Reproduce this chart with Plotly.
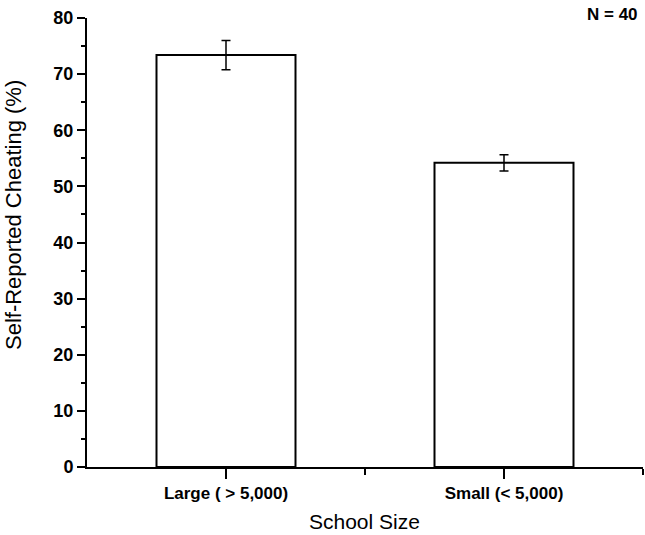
import plotly.graph_objects as go

# Self-reported cheating by school size
categories = ["Large ( > 5,000)", "Small (< 5,000)"]
cheating_pct = [73.4, 54.2]
std_error = [2.6, 1.45]
positions = [1, 2]

FONT = "Liberation Sans, Arial, sans-serif"

fig = go.Figure()
fig.add_trace(go.Bar(
    x=positions,
    y=cheating_pct,
    width=0.5,
    marker=dict(color="white", line=dict(color="black", width=2)),
    error_y=dict(type="data", array=std_error, visible=True,
                 color="black", thickness=1.5, width=4.5),
    showlegend=False,
))

fig.update_layout(
    width=645, height=535,
    margin=dict(l=87, r=2, t=18, b=68),
    plot_bgcolor="white", paper_bgcolor="white",
    font=dict(family=FONT, color="black"),
    xaxis=dict(
        range=[0.5, 2.5],
        tickvals=positions, ticktext=categories,
        ticks="outside", ticklen=10, tickwidth=2, tickcolor="black",
        tickfont=dict(size=17, family=FONT, weight="bold"),
        showline=True, linecolor="black", linewidth=2,
        showgrid=False, zeroline=False,
        minor=dict(tickvals=[1.5, 2.5], ticks="outside", ticklen=6,
                   tickwidth=2, tickcolor="black", showgrid=False),
    ),
    yaxis=dict(
        range=[0, 80], dtick=10,
        ticks="outside", ticklen=8, tickwidth=2, tickcolor="black",
        tickfont=dict(size=18, family=FONT, weight="bold"),
        showline=True, linecolor="black", linewidth=2,
        showgrid=False, zeroline=False,
        minor=dict(dtick=5, ticks="outside", ticklen=4, tickwidth=2,
                   tickcolor="black", showgrid=False),
    ),
    annotations=[
        dict(text="Self-Reported Cheating (%)", textangle=-90,
             xref="paper", yref="paper", x=(13 - 87) / 556,
             y=(467 - 215) / 449,
             xanchor="center", yanchor="middle", showarrow=False,
             font=dict(size=22, family=FONT)),
        dict(text="School Size", xref="paper", yref="paper",
             x=(364 - 87) / 556, y=-(521 - 467) / 449,
             xanchor="center", yanchor="middle", showarrow=False,
             font=dict(size=21, family=FONT)),
        dict(text="N = 40", xref="paper", yref="paper",
             x=(612 - 87) / 556, y=1 + 3 / 449,
             xanchor="center", yanchor="middle", showarrow=False,
             font=dict(size=17, family=FONT, weight="bold")),
    ],
)

fig.write_html("out.html")
